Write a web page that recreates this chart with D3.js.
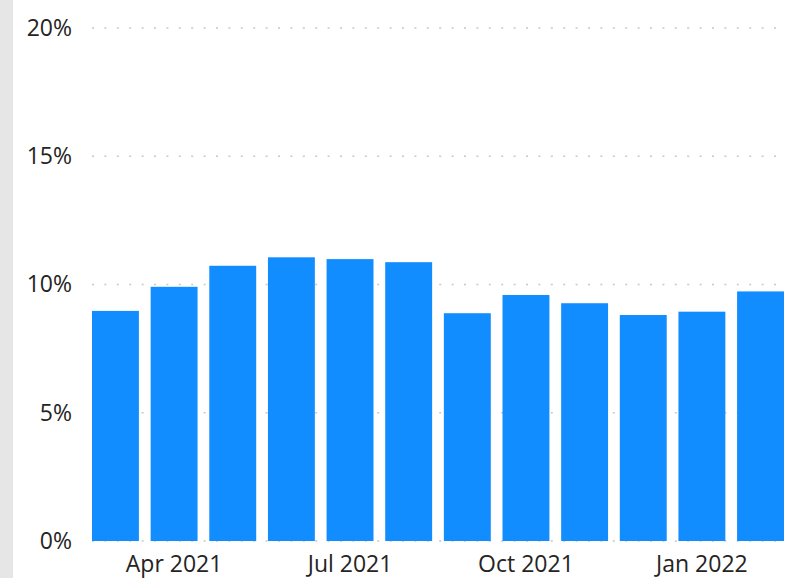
<!DOCTYPE html>
<html>
<head>
<meta charset="utf-8">
<script src="https://cdn.jsdelivr.net/npm/d3@7"></script>
<style>
  html, body { margin: 0; padding: 0; background: #fff; }
  svg { display: block; }
</style>
</head>
<body>
<svg id="chart"></svg>
<script>
// monthly values, Mar 2021 - Feb 2022
const months = ['2021-03', '2021-04', '2021-05', '2021-06', '2021-07', '2021-08',
                '2021-09', '2021-10', '2021-11', '2021-12', '2022-01', '2022-02'];
const values = [8.97, 9.91, 10.73, 11.06, 10.99, 10.87, 8.88, 9.59, 9.27, 8.81, 8.94, 9.73];
const yTicks = [0, 5, 10, 15, 20];
const xTickMonths = ['2021-04', '2021-07', '2021-10', '2022-01'];

const width = 807, height = 578;
const fontFamily = '"Segoe UI", "Open Sans", "DejaVu Sans", sans-serif';

const svg = d3.select('#chart')
    .attr('width', width)
    .attr('height', height);

// gray strip on the left edge
svg.append('rect')
    .attr('x', 0).attr('y', 0)
    .attr('width', 13).attr('height', height)
    .attr('fill', '#e6e6e6');

const x = d3.scaleBand()
    .domain(months)
    .range([92, 784])
    .paddingInner(0.2)
    .paddingOuter(0);

const y = d3.scaleLinear()
    .domain([0, 20])
    .range([541, 28]);

// dotted gridlines
svg.append('g')
    .selectAll('line')
    .data(yTicks)
    .enter()
    .append('line')
    .attr('x1', 92)
    .attr('x2', 784)
    .attr('y1', d => y(d))
    .attr('y2', d => y(d))
    .attr('stroke', '#c8c8c8')
    .attr('stroke-width', 1.5)
    .attr('stroke-dasharray', '2,10.4');

// y axis labels
const yAxis = svg.append('g')
    .attr('transform', 'translate(72,0)')
    .call(d3.axisLeft(y).tickValues(yTicks).tickSize(0).tickPadding(0).tickFormat(d => d + '%'));
yAxis.select('.domain').remove();
yAxis.selectAll('text')
    .attr('fill', '#252423')
    .attr('font-size', '23px')
    .attr('font-family', fontFamily);

// bars
svg.append('g')
    .selectAll('rect')
    .data(months.map((m, i) => ({ m, v: values[i] })))
    .enter()
    .append('rect')
    .attr('x', d => x(d.m))
    .attr('y', d => y(d.v))
    .attr('width', x.bandwidth())
    .attr('height', d => y(0) - y(d.v))
    .attr('fill', '#118dff');

// x axis labels
const fmt = d3.timeFormat('%b %Y');
const parse = d3.timeParse('%Y-%m');
const xAxis = svg.append('g')
    .attr('transform', 'translate(0,556)')
    .call(d3.axisBottom(x).tickValues(xTickMonths).tickSize(0).tickPadding(0).tickFormat(d => fmt(parse(d))));
xAxis.select('.domain').remove();
xAxis.selectAll('text')
    .attr('fill', '#252423')
    .attr('font-size', '23px')
    .attr('font-family', fontFamily);
</script>
</body>
</html>
